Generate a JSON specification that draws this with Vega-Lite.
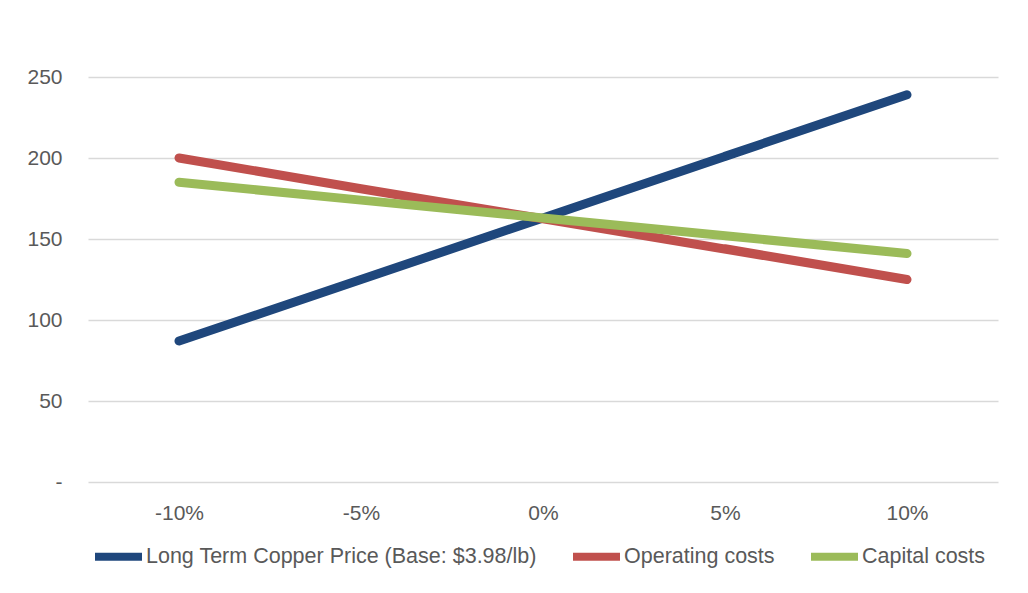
{
  "$schema": "https://vega.github.io/schema/vega-lite/v6.json",
  "width": 910,
  "height": 405,
  "autosize": "none",
  "padding": {"left": 88, "top": 77, "right": 30, "bottom": 111},
  "background": "white",
  "config": {
    "view": {"stroke": null},
    "font": "Liberation Sans",
    "axis": {"labelFont": "Liberation Sans", "labelFontSize": 21, "labelColor": "#595959", "domain": false, "ticks": false, "title": null},
    "legend": {"labelFont": "Liberation Sans", "labelFontSize": 21.5, "labelColor": "#595959", "labelLimit": 0}
  },
  "data": {
    "values": [
      {"s": "Long Term Copper Price (Base: $3.98/lb)", "x": "-10%", "v": 87},
      {"s": "Long Term Copper Price (Base: $3.98/lb)", "x": "-5%", "v": 125},
      {"s": "Long Term Copper Price (Base: $3.98/lb)", "x": "0%", "v": 163},
      {"s": "Long Term Copper Price (Base: $3.98/lb)", "x": "5%", "v": 201},
      {"s": "Long Term Copper Price (Base: $3.98/lb)", "x": "10%", "v": 239},
      {"s": "Operating costs", "x": "-10%", "v": 200},
      {"s": "Operating costs", "x": "-5%", "v": 181},
      {"s": "Operating costs", "x": "0%", "v": 162.5},
      {"s": "Operating costs", "x": "5%", "v": 144},
      {"s": "Operating costs", "x": "10%", "v": 125},
      {"s": "Capital costs", "x": "-10%", "v": 185},
      {"s": "Capital costs", "x": "-5%", "v": 174},
      {"s": "Capital costs", "x": "0%", "v": 163},
      {"s": "Capital costs", "x": "5%", "v": 152},
      {"s": "Capital costs", "x": "10%", "v": 141}
    ]
  },
  "mark": {"type": "line", "strokeWidth": 9, "strokeCap": "round", "strokeJoin": "round"},
  "encoding": {
    "x": {
      "field": "x", "type": "ordinal",
      "sort": ["-10%", "-5%", "0%", "5%", "10%"],
      "scale": {"type": "point", "padding": 0.5},
      "axis": {"labelAngle": 0, "labelPadding": 20, "grid": false}
    },
    "y": {
      "field": "v", "type": "quantitative",
      "scale": {"domain": [0, 250], "nice": false},
      "axis": {"values": [0, 50, 100, 150, 200, 250], "labelPadding": 26, "grid": true, "gridColor": "#d9d9d9", "gridWidth": 1.3, "labelExpr": "datum.value == 0 ? '-' : datum.label"}
    },
    "color": {
      "field": "s", "type": "nominal",
      "sort": ["Long Term Copper Price (Base: $3.98/lb)", "Operating costs", "Capital costs"],
      "scale": {"domain": ["Long Term Copper Price (Base: $3.98/lb)", "Operating costs", "Capital costs"], "range": ["#1f477c", "#c0504d", "#9bbb59"]},
      "legend": {
        "title": null, "orient": "none", "direction": "horizontal",
        "legendX": 3, "legendY": 452, "padding": 0,
        "symbolType": "stroke", "symbolSize": 2209, "symbolStrokeWidth": 8,
        "labelOffset": 0, "columnPadding": 20, "columns": 3
      }
    },
    "order": {"field": "x"}
  }
}
